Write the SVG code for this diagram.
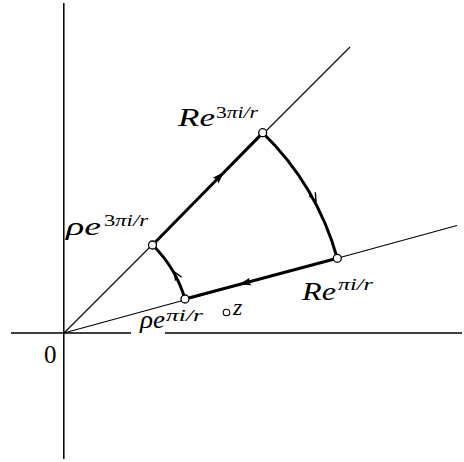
<svg xmlns="http://www.w3.org/2000/svg" width="464" height="462" viewBox="0 0 464 462">
<style>
.axis{stroke:#000;stroke-width:1.5;fill:none}
.ray{stroke:#000;stroke-width:1.1;fill:none}
.contour{stroke:#000;stroke-width:3;fill:none;stroke-linejoin:round}
.pt{fill:#fff;stroke:#000;stroke-width:1.3}
.lbl{font-family:"Liberation Serif","Times New Roman",serif;font-style:italic;fill:#000}
.up{font-style:normal}
</style>
<defs>
<path id="tri" d="M0,0 L-12,-4 L-10,0 L-12,4 Z" fill="#000"/>
<path id="chev" d="M-8,-3.5 L0,0 L-8,3.5" fill="none" stroke="#000" stroke-width="1.4"/>
</defs>
<g id="connectors">
<path class="axis" d="M11,333 H131 M165,333 H462 M63.8,3 V459"/>
<path class="ray" d="M64,333 L350,47 M64,333 L457,225.5"/>
<path class="contour" d="M185,299 A125.5,125.5 0 0 0 152.5,245 L262.7,132.7 A282,282 0 0 1 337.3,258.3 Z"/>
<use href="#tri" transform="translate(224,172.1) rotate(-45.5)"/>
<use href="#tri" transform="translate(239,284.6) rotate(165)"/>
<use href="#chev" transform="translate(316,201) rotate(62)"/>
<use href="#chev" transform="translate(174.5,272) rotate(-120)"/>
</g>
<g id="origin">
<text class="lbl up" x="44" y="363" font-size="25">0</text>
</g>
<g id="rho-e-pi">
<circle class="pt" cx="185" cy="299" r="4"/>
<text class="lbl" x="140" y="328" font-size="25" textLength="25" lengthAdjust="spacingAndGlyphs">ρe</text>
<text class="lbl" x="166" y="321" font-size="17" textLength="37" lengthAdjust="spacingAndGlyphs">πi/r</text>
</g>
<g id="rho-e-3pi">
<circle class="pt" cx="152.5" cy="245" r="4"/>
<text class="lbl" x="66" y="235" font-size="25" textLength="35" lengthAdjust="spacingAndGlyphs">ρe</text>
<text class="lbl" x="104" y="226" font-size="17" textLength="44" lengthAdjust="spacingAndGlyphs"><tspan class="up">3</tspan>πi/r</text>
</g>
<g id="R-e-3pi">
<circle class="pt" cx="262.7" cy="132.7" r="4"/>
<text class="lbl" x="178" y="126" font-size="25" textLength="37" lengthAdjust="spacingAndGlyphs">Re</text>
<text class="lbl" x="216" y="118" font-size="17" textLength="42" lengthAdjust="spacingAndGlyphs"><tspan class="up">3</tspan>πi/r</text>
</g>
<g id="R-e-pi">
<circle class="pt" cx="337.3" cy="258.3" r="4"/>
<text class="lbl" x="302" y="300" font-size="25" textLength="34" lengthAdjust="spacingAndGlyphs">Re</text>
<text class="lbl" x="338" y="290" font-size="17" textLength="35" lengthAdjust="spacingAndGlyphs">πi/r</text>
</g>
<g id="z">
<circle class="pt" cx="226.5" cy="312.5" r="3.3" style="stroke-width:1.1"/>
<text class="lbl" x="233" y="315" font-size="24">z</text>
</g>
</svg>
